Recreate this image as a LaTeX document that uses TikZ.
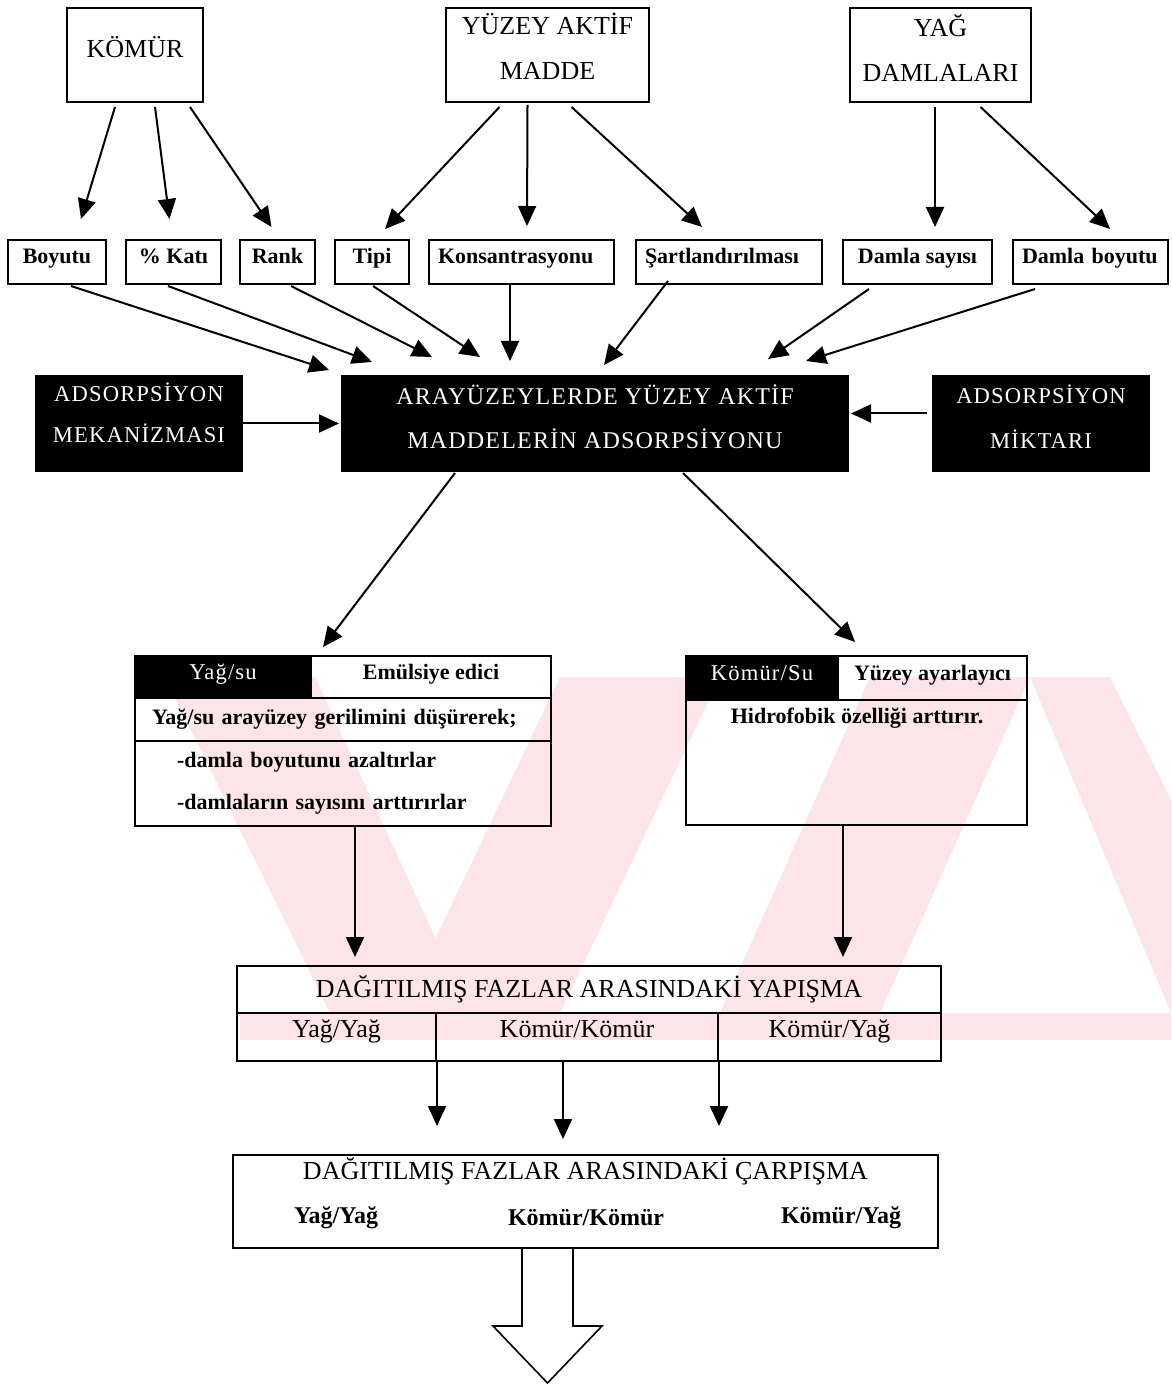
\documentclass[tikz,border=0pt]{standalone}
\usepackage{fontspec}
\setmainfont{Liberation Serif}
\newfontfamily\spacedfont[LetterSpace=5]{Liberation Serif}
\usetikzlibrary{arrows.meta,calc}
\definecolor{wmark}{RGB}{252,228,232}

\begin{document}
\begin{tikzpicture}[x=0.5pt,y=-0.5pt,
    box/.style={draw, line width=1pt, inner sep=2pt, align=center},
    titlefont/.style={font=\fontsize{13}{15.6}\selectfont},
    smallfont/.style={font=\fontsize{11}{13}\selectfont\bfseries},
    smallbox/.style={box, smallfont, text height=8pt, text depth=6pt},
    cellbox/.style={box, titlefont, text height=9pt, text depth=9pt},
    darkfont/.style={font=\spacedfont\fontsize{11.3}{13.5}\selectfont},
    darkbox/.style={box, fill=black, text=white},
    arr/.style={line width=1pt, -{Triangle[length=10pt,width=9pt]}}]

    \useasboundingbox (0,0) rectangle (1171,1384);

    % watermark
    \fill[wmark] (165,677) -- (315,677) -- (470,1013) -- (330,1013) -- cycle;
    \fill[wmark] (560,677) -- (720,677) -- (560,1013) -- (400,1013) -- cycle;
    \fill[wmark] (870,677) -- (1030,677) -- (880,1013) -- (720,1013) -- cycle;
    \fill[wmark] (1030,677) -- (1110,677) -- (1171,800) -- (1171,1013) -- cycle;
    \fill[wmark] (240,1013) rectangle (1171,1040);

    % sources
    \node[box, titlefont, text depth=8pt, minimum width=68pt, minimum height=47pt] (komur) at (135,55) {KÖMÜR};
    \node[box, titlefont, text depth=9pt, minimum width=101.5pt, minimum height=47pt] (yuzey) at (547.5,55) {YÜZEY AKTİF\\[7pt]MADDE};
    \node[box, titlefont, text depth=7pt, minimum width=90.5pt, minimum height=47pt] (yag) at (940.5,55) {YAĞ\\[7pt]DAMLALARI};

    % parameters
    \node[smallbox, minimum width=49pt, minimum height=22pt] (boyutu) at (57,262) {Boyutu};
    \node[smallbox, minimum width=47.5pt, minimum height=22pt] (kati) at (173.5,262) {\% Katı};
    \node[smallbox, minimum width=37.5pt, minimum height=22pt] (rank) at (277.5,262) {Rank};
    \node[smallbox, minimum width=37pt, minimum height=22pt] (tipi) at (372,262) {Tipi};
    \node[smallbox, minimum height=22pt, inner xsep=4.5pt, text width=83.5pt, align=left] (kons) at (521.5,262) {Konsantrasyonu};
    \node[smallbox, minimum height=22pt, inner xsep=4.5pt, text width=84pt, align=left] (sart) at (729,262) {Şartlandırılması};
    \node[smallbox, minimum width=74.5pt, minimum height=22pt] (dsay) at (917.5,262) {Damla sayısı};
    \node[smallbox, minimum height=22pt, inner xsep=4.5pt, text width=68.5pt, align=left] (dboy) at (1090.5,262) {Damla boyutu};

    % adsorption
    \node[darkbox, darkfont, text depth=11pt, minimum width=103pt, minimum height=47.5pt] (mek) at (139,423.5) {ADSORPSİYON\\[7pt]MEKANİZMASI};
    \node[darkbox, font=\spacedfont\fontsize{12}{14.4}\selectfont, text depth=7pt, minimum width=253pt, minimum height=47.5pt] (ads) at (595,423.5) {ARAYÜZEYLERDE YÜZEY AKTİF\\[8pt]MADDELERİN ADSORPSİYONU};
    \node[darkbox, darkfont, text depth=7pt, minimum width=108pt, minimum height=47.5pt] (mik) at (1041,423.5) {ADSORPSİYON\\[9pt]MİKTARI};

    % oil/water
    \node[darkbox, darkfont, text height=8pt, text depth=6pt, minimum width=88pt, minimum height=21pt] (ys_h1) at (223,677) {Yağ/su};
    \node[smallbox, minimum width=120pt, minimum height=21pt] (ys_h2) at (431,677) {Emülsiye edici};
    \node[box, smallfont, minimum height=21.5pt, inner xsep=8.5pt, text width=191pt, align=left] (ys_r2) at (343,719.5) {Yağ/su arayüzey gerilimini düşürerek;};
    \node[box, smallfont, minimum height=42.5pt, inner xsep=21pt, text width=166pt, align=left] (ys_r3) at (343,783.5) {-damla boyutunu azaltırlar\\[8pt]-damlaların sayısını arttırırlar};

    % coal/water
    \node[darkbox, darkfont, text height=8pt, text depth=6pt, minimum width=76pt, minimum height=22pt] (ks_h1) at (762,678) {Kömür/Su};
    \node[smallbox, minimum width=94.5pt, minimum height=22pt] (ks_h2) at (932.5,678) {Yüzey ayarlayıcı};
    \node[box, minimum width=170.5pt, minimum height=62.5pt] (ks_b) at (856.5,762.5) {};
    \node[smallfont] (ks_t) at (857,718) {Hidrofobik özelliği arttırır.};

    % adhesion
    \node[box, titlefont, minimum width=352pt, minimum height=23.5pt] (yap_t) at (589,989.5) {DAĞITILMIŞ FAZLAR ARASINDAKİ YAPIŞMA};
    \node[cellbox, minimum width=99.5pt, minimum height=24pt] (yap_1) at (336.5,1037) {Yağ/Yağ};
    \node[cellbox, minimum width=141pt, minimum height=24pt] (yap_2) at (577,1037) {Kömür/Kömür};
    \node[cellbox, minimum width=111.5pt, minimum height=24pt] (yap_3) at (829.5,1037) {Kömür/Yağ};

    % collision
    \node[box, minimum width=352.5pt, minimum height=46.5pt] (carp) at (585.5,1201.5) {};
    \node[titlefont] (carp_t) at (585.5,1171) {DAĞITILMIŞ FAZLAR ARASINDAKİ ÇARPIŞMA};
    \node[font=\fontsize{12}{14}\selectfont\bfseries] (carp_1) at (336,1218) {Yağ/Yağ};
    \node[font=\fontsize{12}{14}\selectfont\bfseries] (carp_2) at (586,1218) {Kömür/Kömür};
    \node[font=\fontsize{12}{14}\selectfont\bfseries] (carp_3) at (841,1218) {Kömür/Yağ};

    % sources -> parameters
    \draw[arr] ($(komur.south)+(-20,4)$) -- ($(boyutu.north)+(24,-20)$);
    \draw[arr] ($(komur.south)+(20,4)$) -- ($(kati.north)+(-4,-20)$);
    \draw[arr] ($(komur.south)+(55,4)$) -- ($(rank.north)+(-6,-12)$);
    \draw[arr] ($(yuzey.south)+(-48,4)$) -- ($(tipi.north)+(13,-10)$);
    \draw[arr] ($(yuzey.south)+(-20,2)$) -- ($(kons.north)+(5.5,-13)$);
    \draw[arr] ($(yuzey.south)+(24,4)$) -- ($(sart.north)+(-27,-12)$);
    \draw[arr] ($(yag.south)+(-5.5,4)$) -- ($(dsay.north)+(17.5,-12)$);
    \draw[arr] ($(yag.south)+(40,4)$) -- ($(dboy.north)+(19.5,-10)$);

    % parameters -> adsorption
    \draw[arr] ($(boyutu.south)+(14,1)$) -- ($(ads.north)+(-266,-5)$);
    \draw[arr] ($(kati.south)+(-5.5,1)$) -- ($(ads.north)+(-223,-13)$);
    \draw[arr] ($(rank.south)+(13.5,1)$) -- ($(ads.north)+(-163,-18)$);
    \draw[arr] ($(tipi.south)+(1,1)$) -- ($(ads.north)+(-115,-18)$);
    \draw[arr] ($(kons.south)+(-11.5,-1)$) -- ($(ads.north)+(-85,-14)$);
    \draw[arr] ($(sart.south)+(-61,-4)$) -- ($(ads.north)+(9,-10)$);
    \draw[arr] ($(dsay.south)+(-48.5,4)$) -- ($(ads.north)+(173,-16)$);
    \draw[arr] ($(dboy.south)+(-55.5,4)$) -- ($(ads.north)+(211,-14)$);
    \draw[arr, shorten >=1pt] (mek) -- (ads);
    \draw[arr, shorten >=1pt] ($(mik.west)+(-5,-10)$) -- ($(ads.east)+(0,-10)$);

    % adsorption -> effects
    \draw[arr] ($(ads.south)+(-140,1)$) -- ($(ys_h1.north east)+(11,-8)$);
    \draw[arr] ($(ads.south)+(88,1)$) -- ($(ks_h1.north)+(93,-13)$);

    % effects -> adhesion
    \coordinate (ysout) at ($(ys_r3.south)+(12,0)$);
    \coordinate (ksout) at ($(ks_b.south)+(-13.5,0)$);
    \draw[arr, shorten >=4pt] (ysout) -- (ysout |- yap_t.north);
    \draw[arr, shorten >=4pt] (ksout) -- (ksout |- yap_t.north);

    % adhesion -> collision
    \coordinate (yapmid) at ($(yap_2.south)+(-14,0)$);
    \draw[arr, shorten >=14pt] (yap_1.south east) -- (yap_1.south east |- carp.north);
    \draw[arr, shorten >=7.5pt] (yapmid) -- (yapmid |- carp.north);
    \draw[arr, shorten >=14pt] (yap_2.south east) -- (yap_2.south east |- carp.north);

    % outlet
    \coordinate (out) at ($(carp.south)+(-38,0)$);
    \draw[line width=0.8pt] ($(out)+(-25.5,0)$) -- ++(0,77) -- ++(-29,0) -- ($(out)+(0,134)$)
        -- ($(out)+(54.5,77)$) -- ++(-29,0) -- ($(out)+(25.5,0)$);

\end{tikzpicture}
\end{document}
